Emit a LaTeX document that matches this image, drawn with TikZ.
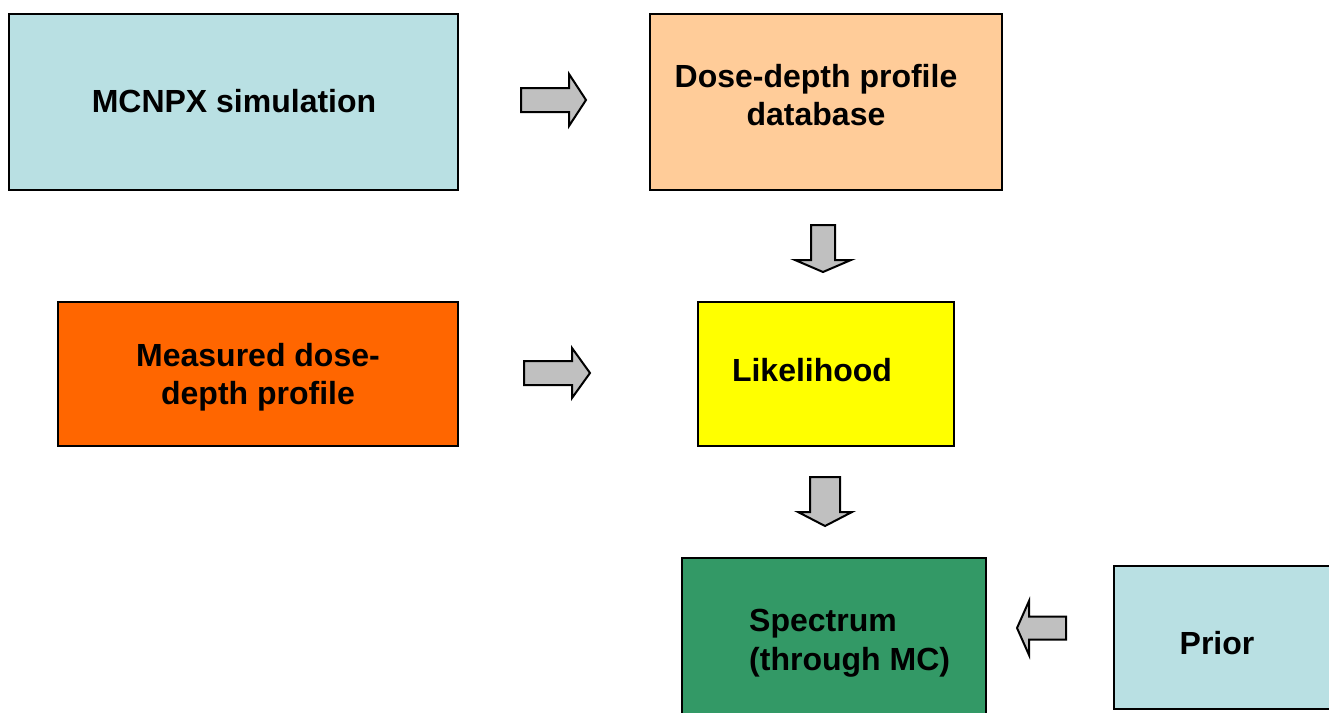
\documentclass[tikz,border=0pt]{standalone}
\usepackage{fontspec}
\setmainfont{Liberation Sans}
\definecolor{lblue}{HTML}{B9E0E3}
\definecolor{peach}{HTML}{FFCC99}
\definecolor{dorange}{HTML}{FF6600}
\definecolor{yel}{HTML}{FFFF00}
\definecolor{dgreen}{HTML}{339966}
\definecolor{arrowgray}{HTML}{C0C0C0}
\newcommand{\blockarr}[8]{%
  \coordinate (#1) at (#2);
  \begin{scope}[shift={(#1)}, rotate=#3]
    \draw[blk] (0,{-#5}) -- ({#4-#7},{-#5}) -- ({#4-#7},{-#6}) -- (#4,0) -- ({#4-#7},#6) -- ({#4-#7},#5) -- (0,#5) -- cycle;
  \end{scope}}
\begin{document}
\begin{tikzpicture}[x=1pt,y=-1pt,
  box/.style={draw=black, line width=2pt, inner sep=0pt, anchor=north west},
  lbl/.style={font=\fontsize{32}{38.5}\selectfont\bfseries, align=center, inner sep=0pt},
  blk/.style={draw=black, fill=arrowgray, line width=2pt, line join=miter}]
\useasboundingbox (0,0) rectangle (1329,712);
% boxes
\node[box, fill=lblue, minimum width=449pt, minimum height=176pt] (mcnpx) at (8,13) {};
\node[box, fill=peach, minimum width=352pt, minimum height=176pt] (dbase) at (649,13) {};
\node[box, fill=dorange, minimum width=400pt, minimum height=144pt] (meas) at (57,301) {};
\node[box, fill=yel, minimum width=256pt, minimum height=144pt] (like) at (697,301) {};
\node[box, fill=dgreen, minimum width=304pt, minimum height=190pt] (spec) at (681,557) {};
\node[box, fill=lblue, minimum width=230pt, minimum height=143pt] (prior) at (1113,565) {};
% labels
\node[lbl] (mcnpxT) at (234,101) {MCNPX simulation};
\node[lbl] (dbaseT) at (816,95) {Dose-depth profile\\database};
\node[lbl] (measT) at (258,377) {Measured dose-\\depth profile};
\node[lbl] (likeT) at (812,370) {Likelihood};
\node[lbl, align=left, anchor=west] (specT) at (749,643) {Spectrum\\(through MC)};
\node[lbl] (priorT) at (1217,643) {Prior};
% block arrows
\blockarr{a1}{521,100}{0}{65}{12}{26}{17}{}
\blockarr{a2}{823,225}{-90}{47}{12}{28}{12}{}
\blockarr{a3}{524,373}{0}{66}{12}{25}{18}{}
\blockarr{a4}{825,477}{-90}{49}{15}{27}{14}{}
\blockarr{a5}{1066,628}{180}{49}{11.5}{27}{12}{}
\end{tikzpicture}
\end{document}
